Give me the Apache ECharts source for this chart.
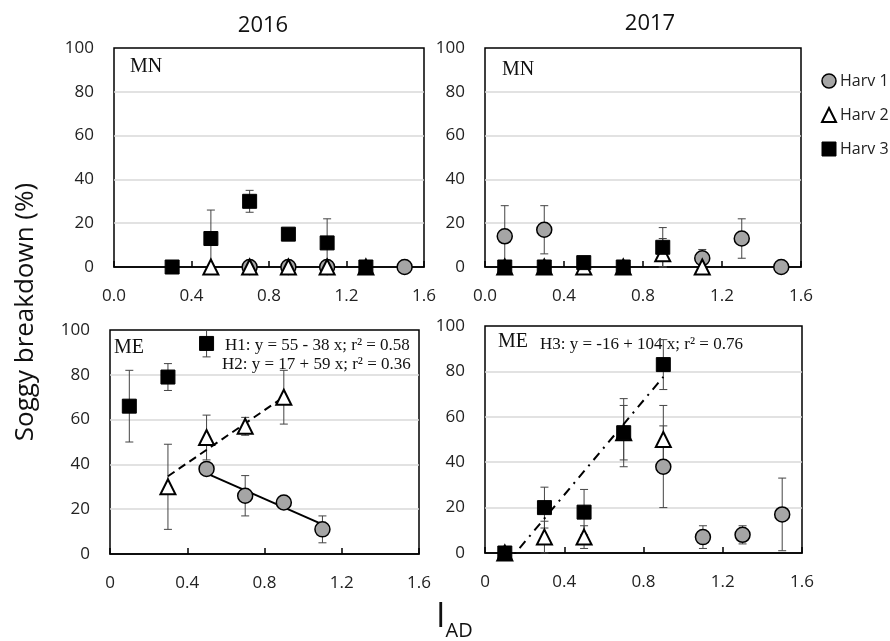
<!DOCTYPE html>
<html>
<head>
<meta charset="utf-8">
<script src="https://cdn.jsdelivr.net/npm/echarts@6/dist/echarts.min.js"></script>
<style>html,body{margin:0;padding:0;background:#fff}#c{width:890px;height:641px}</style>
</head>
<body>
<div id="c"></div>
<script>
// ---- data: [I_AD, soggy breakdown %, error] ----
const panelTitles = ['2016', '2017'];
const xTicks = [0, 0.4, 0.8, 1.2, 1.6];
const yTicks = [0, 20, 40, 60, 80, 100];
const seriesNames = ['Harv 1', 'Harv 2', 'Harv 3'];

const mn2016_h1 = [[0.7, 0, 0], [0.9, 0, 0], [1.1, 0, 0], [1.5, 0, 0]];
const mn2016_h2 = [[0.5, 0, 0], [0.7, 0, 0], [0.9, 0, 0], [1.1, 0, 0], [1.3, 0, 0]];
const mn2016_h3 = [[0.3, 0, 0], [0.5, 13, 13], [0.7, 30, 5], [0.9, 15, 1], [1.1, 11, 11], [1.3, 0, 0]];

const mn2017_h1 = [[0.1, 14, 14], [0.3, 17, 11], [1.1, 4, 4], [1.3, 13, 9], [1.5, 0, 0]];
const mn2017_h2 = [[0.1, 0, 0], [0.3, 0, 0], [0.5, 0, 0], [0.7, 0, 0], [0.9, 6, 7], [1.1, 0, 0]];
const mn2017_h3 = [[0.1, 0, 0], [0.3, 0, 0], [0.5, 2, 0], [0.7, 0, 0], [0.9, 9, 9]];

const me2016_h1 = [[0.5, 38, 0], [0.7, 26, 9], [0.9, 23, 0], [1.1, 11, 6]];
const me2016_h2 = [[0.3, 30, 19], [0.5, 52, 10], [0.7, 57, 4], [0.9, 70, 12]];
const me2016_h3 = [[0.1, 66, 16], [0.3, 79, 6], [0.5, 94, 6]];

const me2017_h1 = [[0.9, 38, 18], [1.1, 7, 5], [1.3, 8, 4], [1.5, 17, 16]];
const me2017_h2 = [[0.1, 0, 0], [0.3, 7, 7], [0.5, 7, 5], [0.7, 53, 12], [0.9, 50, 15]];
const me2017_h3 = [[0.1, 0, 0], [0.3, 20, 9], [0.5, 18, 10], [0.7, 53, 15], [0.9, 83, 11]];

// regression line endpoints (from the printed equations)
const fitH1 = [[0.5, 36], [1.1, 13.2]];      // y = 55 - 38x
const fitH2 = [[0.3, 34.7], [0.9, 70.1]];    // y = 17 + 59x
const fitH3 = [[0.1, -5.6], [0.9, 77.6]];    // y = -16 + 104x

const eqH1 = 'H1: y = 55 - 38 x; r² = 0.58';
const eqH2 = 'H2: y = 17 + 59 x; r² = 0.36';
const eqH3 = 'H3: y = -16 + 104 x; r² = 0.76';

const panels = [
  { data: [mn2016_h1, mn2016_h2, mn2016_h3], fits: [], topRow: true },
  { data: [mn2017_h1, mn2017_h2, mn2017_h3], fits: [], topRow: true },
  { data: [me2016_h1, me2016_h2, me2016_h3], fits: [{ d: fitH1, type: 'solid' }, { d: fitH2, type: [8, 5] }], topRow: false },
  { data: [me2017_h1, me2017_h2, me2017_h3], fits: [{ d: fitH3, type: [9, 6, 2, 6] }], topRow: false }
];

const grids = [
  { left: 114, top: 48, width: 310, height: 219 },
  { left: 485, top: 48, width: 316, height: 219 },
  { left: 110, top: 330, width: 309, height: 224 },
  { left: 485, top: 326, width: 317, height: 227 }
];

const FONT = 'Open Sans';
const SERIF = 'Liberation Serif';

const symbolStyles = [
  { symbol: 'circle', symbolSize: 15, itemStyle: { color: '#a5a5a5', borderColor: '#000', borderWidth: 1.5, opacity: 1 } },
  { symbol: 'triangle', symbolSize: 15, itemStyle: { color: '#fff', borderColor: '#000', borderWidth: 2, opacity: 1 } },
  { symbol: 'rect', symbolSize: 14, itemStyle: { color: '#000', borderColor: '#000', borderWidth: 1, opacity: 1 } }
];

function errRender(params, api) {
  const x = api.value(0), y = api.value(1), e = api.value(2);
  if (!e) return null;
  const top = api.coord([x, Math.min(y + e, 100)]);
  const bot = api.coord([x, Math.max(y - e, 0)]);
  const hw = 4;
  const st = { stroke: '#444', lineWidth: 1 };
  return {
    type: 'group',
    children: [
      { type: 'line', shape: { x1: top[0], y1: top[1], x2: bot[0], y2: bot[1] }, style: st },
      { type: 'line', shape: { x1: top[0] - hw, y1: top[1], x2: top[0] + hw, y2: top[1] }, style: st },
      { type: 'line', shape: { x1: bot[0] - hw, y1: bot[1], x2: bot[0] + hw, y2: bot[1] }, style: st }
    ]
  };
}

const xAxes = [], yAxes = [], series = [];
panels.forEach((p, g) => {
  xAxes.push({
    gridIndex: g, type: 'value', min: xTicks[0], max: xTicks[xTicks.length - 1], interval: 0.4,
    axisLine: { show: true, onZero: false, lineStyle: { color: '#000', width: 1.5 } },
    axisTick: { show: true, inside: true, length: 6, lineStyle: { color: '#000', width: 1.5 } },
    splitLine: { show: false },
    axisLabel: {
      margin: 21, fontSize: 17, color: '#222', fontFamily: FONT,
      formatter: v => p.topRow ? v.toFixed(1) : (v === 0 ? '0' : v.toFixed(1))
    }
  });
  yAxes.push({
    gridIndex: g, type: 'value', min: yTicks[0], max: yTicks[yTicks.length - 1], interval: 20,
    axisLine: { show: false }, axisTick: { show: false },
    splitLine: { show: true, showMinLine: false, showMaxLine: false, lineStyle: { color: '#d9d9d9', width: 1.5 } },
    axisLabel: { margin: 20, fontSize: 17, color: '#222', fontFamily: FONT }
  });
  p.data.forEach((d, k) => {
    series.push({
      type: 'custom', name: 'err' + g + k, xAxisIndex: g, yAxisIndex: g,
      renderItem: errRender, data: d, encode: { x: 0, y: 1 }, z: 2, silent: true
    });
  });
  p.fits.forEach((f, k) => {
    series.push({
      type: 'line', name: 'fit' + g + k, xAxisIndex: g, yAxisIndex: g, data: f.d,
      symbol: 'none', clip: true, lineStyle: { color: '#000', width: 2, type: f.type }, z: 3, silent: true
    });
  });
  p.data.forEach((d, k) => {
    series.push(Object.assign({
      type: 'scatter', name: seriesNames[k], xAxisIndex: g, yAxisIndex: g,
      data: d.map(r => [r[0], r[1]]), z: 4 + k
    }, symbolStyles[k]));
  });
});

const chart = echarts.init(document.getElementById('c'), null, { renderer: 'canvas' });
chart.setOption({
  animation: false,
  backgroundColor: '#fff',
  grid: grids.map(gr => Object.assign({ show: true, borderColor: '#000', borderWidth: 1.5, backgroundColor: 'transparent' }, gr)),
  xAxis: xAxes,
  yAxis: yAxes,
  series: series,
  legend: {
    orient: 'vertical', left: 821, top: 73, padding: 0, itemWidth: 14, itemHeight: 14, itemGap: 18,
    textStyle: { fontSize: 16, color: '#222', fontFamily: FONT, padding: [0, 0, 0, -1] },
    data: seriesNames.map((n, k) => ({ name: n, icon: symbolStyles[k].symbol, itemStyle: symbolStyles[k].itemStyle }))
  },
  title: [
    { text: panelTitles[0], left: 258, top: 10, textAlign: 'center', textStyle: { fontSize: 22, fontWeight: 'normal', color: '#111', fontFamily: FONT } },
    { text: panelTitles[1], left: 645, top: 8, textAlign: 'center', textStyle: { fontSize: 22, fontWeight: 'normal', color: '#111', fontFamily: FONT } }
  ],
  graphic: [
    { type: 'text', left: 130, top: 57, style: { text: 'MN', fontSize: 20, fontFamily: SERIF, fill: '#111' } },
    { type: 'text', left: 502, top: 60, style: { text: 'MN', fontSize: 20, fontFamily: SERIF, fill: '#111' } },
    { type: 'text', left: 114, top: 338, style: { text: 'ME', fontSize: 20, fontFamily: SERIF, fill: '#111' } },
    { type: 'text', left: 225, top: 337, style: { text: eqH1, fontSize: 17, fontFamily: SERIF, fill: '#111' } },
    { type: 'text', left: 222, top: 356, style: { text: eqH2, fontSize: 17, fontFamily: SERIF, fill: '#111' } },
    { type: 'text', left: 498, top: 332, style: { text: 'ME', fontSize: 20, fontFamily: SERIF, fill: '#111' } },
    { type: 'text', left: 540, top: 336, style: { text: eqH3, fontSize: 17, fontFamily: SERIF, fill: '#111' } },
    { type: 'text', x: 26, y: 312, rotation: Math.PI / 2,
      style: { text: 'Soggy breakdown (%)', fontSize: 26, fontFamily: FONT, fill: '#111', align: 'center', verticalAlign: 'middle' } },
    { type: 'text', left: 436, top: 600,
      style: { text: '{a|I}{b|AD}', fontFamily: FONT, fill: '#111',
        rich: { a: { fontSize: 34, fontFamily: FONT, verticalAlign: 'bottom' }, b: { fontSize: 20, fontFamily: FONT, verticalAlign: 'bottom', padding: [0, 0, -7, 0] } } } }
  ]
});
</script>
</body>
</html>
